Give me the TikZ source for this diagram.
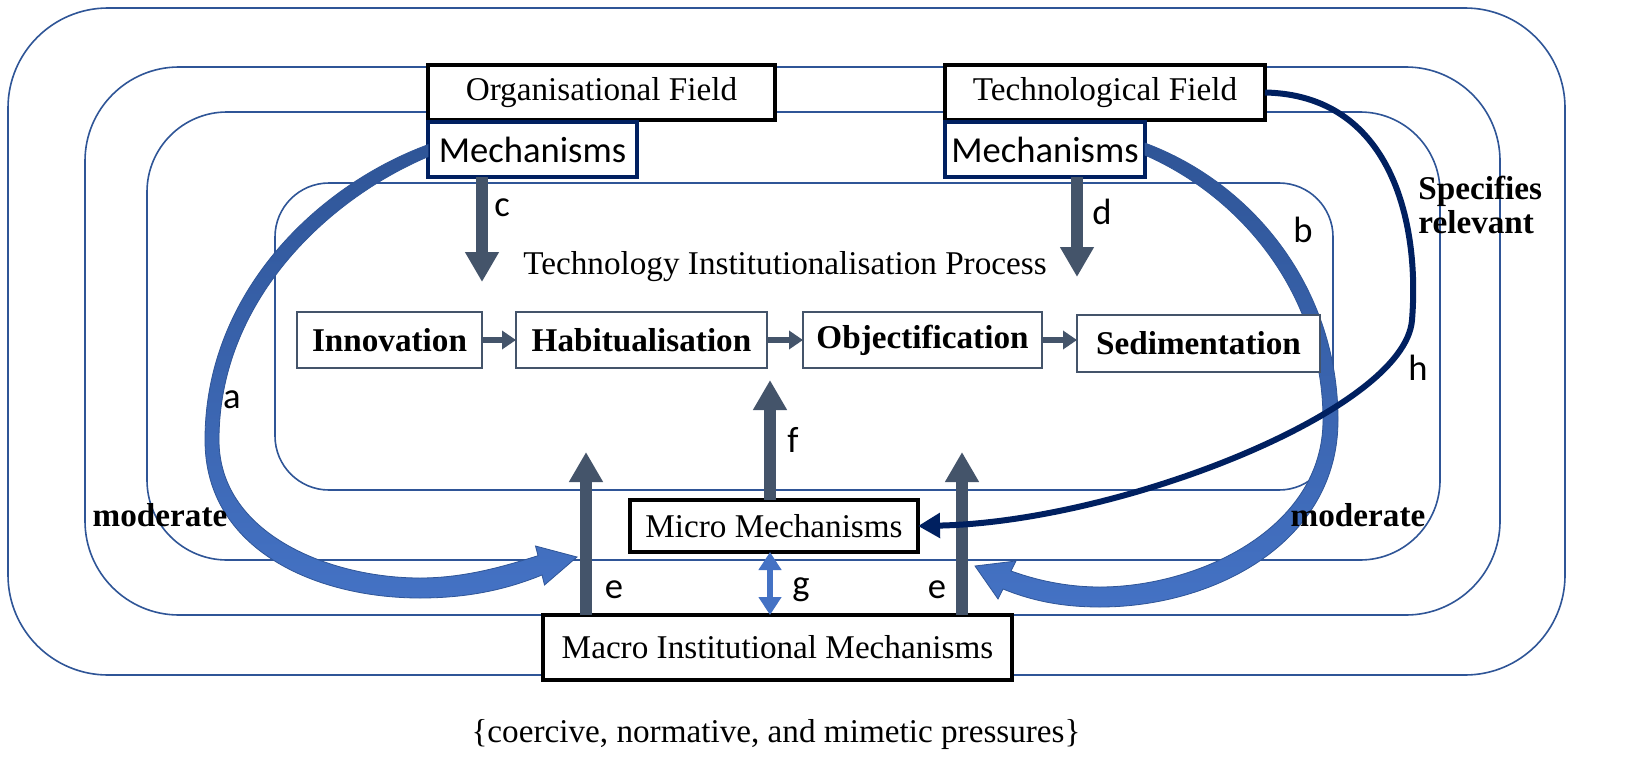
\documentclass[tikz,border=0pt]{standalone}
\usepackage{fontspec}
\setmainfont{Liberation Serif}
\newfontfamily\calib{Carlito}
\usetikzlibrary{arrows.meta}

\definecolor{ringblue}{HTML}{2F5597}
\definecolor{bandlow}{HTML}{4472C4}
\definecolor{slate}{HTML}{44546A}
\definecolor{navy}{HTML}{002060}

\tikzset{
 ring/.style={draw=ringblue, line width=0.8pt},
 band/.style={draw=ringblue, line width=0.4pt, top color=ringblue, bottom color=bandlow},
 fieldbox/.style={draw=black, line width=2.3pt, fill=white, inner sep=0pt, outer sep=0pt, font=\fontsize{16.6}{19}\selectfont},
 mechbox/.style={draw=navy, line width=2.3pt, fill=white, inner sep=0pt, outer sep=0pt, font=\calib\fontsize{18.3}{21}\selectfont},
 stagebox/.style={draw=slate, line width=0.8pt, fill=white, inner sep=0pt, outer sep=0pt, minimum height=28pt, font=\bfseries\fontsize{16.6}{19}\selectfont},
 bigarrow/.style={draw=slate, line width=6pt, -{Triangle[width=16pt,length=15pt]}},
 smallarrow/.style={draw=slate, line width=3pt, -{Triangle[width=9pt,length=7pt]}},
 tag/.style={inner sep=0pt, font=\calib\fontsize{18.3}{21}\selectfont},
 plain/.style={inner sep=0pt, font=\fontsize{16.6}{19}\selectfont},
 strong/.style={inner sep=0pt, align=left, font=\bfseries\fontsize{16.6}{17}\selectfont}
}

\begin{document}
\begin{tikzpicture}[x=0.5pt, y=-0.5pt]
\fill[white] (0,0) rectangle (1652,765);
\useasboundingbox (0,0) rectangle (1652,765);

% nested fields
\draw [ring, rounded corners=50pt] (8,8) rectangle (1565,675);
\draw [ring, rounded corners=47pt] (85,67) rectangle (1500,615);
\draw [ring, rounded corners=40pt] (147,112) rectangle (1440,560);
\draw [ring, rounded corners=27pt] (275,183) rectangle (1333,490);

% fields and mechanisms
\node[fieldbox, minimum width=173.5pt, minimum height=27.5pt] (orgfield) at (601.5,92.5) {Organisational Field};
\node[mechbox, minimum width=104.5pt, minimum height=27.5pt] (orgmech) at (532.5,149.5) {Mechanisms};
\node[fieldbox, minimum width=160pt, minimum height=27.5pt] (techfield) at (1105,92.5) {Technological Field};
\node[mechbox, minimum width=100pt, minimum height=27.5pt] (techmech) at (1045,149.5) {Mechanisms};

% moderating arcs a and b (tapered bands)
\coordinate (atip) at (577,557);
\coordinate (btip) at (975,566);
\path [band] ([yshift=2.4pt]orgmech.west) .. controls (316,186) and (205,294) .. (205,440)
  .. controls (205,550) and (316,598) .. (420,598) .. controls (472,598) and (510,588) .. (542,575)
  -- (544.5,585) -- (atip) -- (535.5,546) -- (538,555.7)
  .. controls (505,566) and (465,578) .. (420,578) .. controls (330,578) and (219,534) .. (219,440)
  .. controls (219,302) and (326,200) .. ([yshift=-3.6pt]orgmech.west) -- cycle;
\path [band] ([yshift=3.2pt]techmech.east) .. controls (1255,184) and (1338,290) .. (1338,420)
  .. controls (1338,542) and (1215,607) .. (1100,607) .. controls (1060,607) and (1030,600) .. (1003,589)
  -- (998,599) -- (btip) -- (1016,561) -- (1011,571)
  .. controls (1036,580) and (1066,587) .. (1100,587) .. controls (1196,587) and (1323,530) .. (1323,420)
  .. controls (1323,298) and (1245,199) .. ([yshift=-2.8pt]techmech.east) -- cycle;

\node[fieldbox, minimum width=144pt, minimum height=26pt] (micro) at (774,526) {Micro Mechanisms};
\node[fieldbox, minimum width=234.5pt, minimum height=32.5pt] (macro) at (777.5,647.5) {Macro Institutional Mechanisms};

% process
\node[plain] (process) at (785,267) {Technology Institutionalisation Process};
\node[stagebox, minimum width=92.5pt] (innov) at (389.5,340) {Innovation};
\node[stagebox, minimum width=125.5pt] (habit) at (641.5,340) {Habitualisation};
\node[stagebox, minimum width=119.5pt] (objec) at (922.5,340) {Objectification};
\node[stagebox, minimum width=121.5pt, minimum height=28.5pt] (sedim) at (1198.5,343.5) {Sedimentation};

\draw [smallarrow] (innov.east) -- (habit.west);
\draw [smallarrow] (habit.east) -- (objec.west);
\draw [smallarrow] (objec.east) -- (objec.east -| sedim.west);

% influence arrows
\coordinate (ctip) at (482,282);
\coordinate (dtip) at (1077,277);
\coordinate (ftip) at (770,380);
\coordinate (eltip) at (586,452);
\coordinate (ertip) at (962,452);
\draw [bigarrow] (orgmech.south -| ctip) -- (ctip);
\draw [bigarrow] (techmech.south -| dtip) -- (dtip);
\draw [bigarrow] (micro.north -| ftip) -- (ftip);
\draw [bigarrow] (macro.north -| eltip) -- (eltip);
\draw [bigarrow] (macro.north -| ertip) -- (ertip);
\draw [draw=bandlow, line width=3pt, {Triangle[width=11pt,length=9pt]}-{Triangle[width=11pt,length=9pt]}] (micro.south -| ftip) -- (macro.north -| ftip);

\draw [draw=navy, line width=3pt, -{Triangle[width=12pt,length=11pt]}] (techfield.east) .. controls (1390,95) and (1420,220) .. (1412,320) .. controls (1405,410) and (1120,522) .. (micro.east);

% labels
\node[tag] (la) at (232,400) {a};
\node[tag] (lb) at (1303,230) {b};
\node[tag] (lc) at (502,208) {c};
\node[tag] (ld) at (1102,212) {d};
\node[tag] (lel) at (614,590) {e};
\node[tag] (ler) at (937,590) {e};
\node[tag] (lf) at (793,440) {f};
\node[tag] (lg) at (801,590) {g};
\node[tag] (lh) at (1418,368) {h};

\node[strong] (modl) at (160,515) {moderate};
\node[strong] (modr) at (1358,515) {moderate};
\node[strong, anchor=west] (spec) at (1418,205) {Specifies\\relevant};
\node[plain] (press) at (776,735) {\{coercive, normative, and mimetic pressures\}};
\end{tikzpicture}
\end{document}
